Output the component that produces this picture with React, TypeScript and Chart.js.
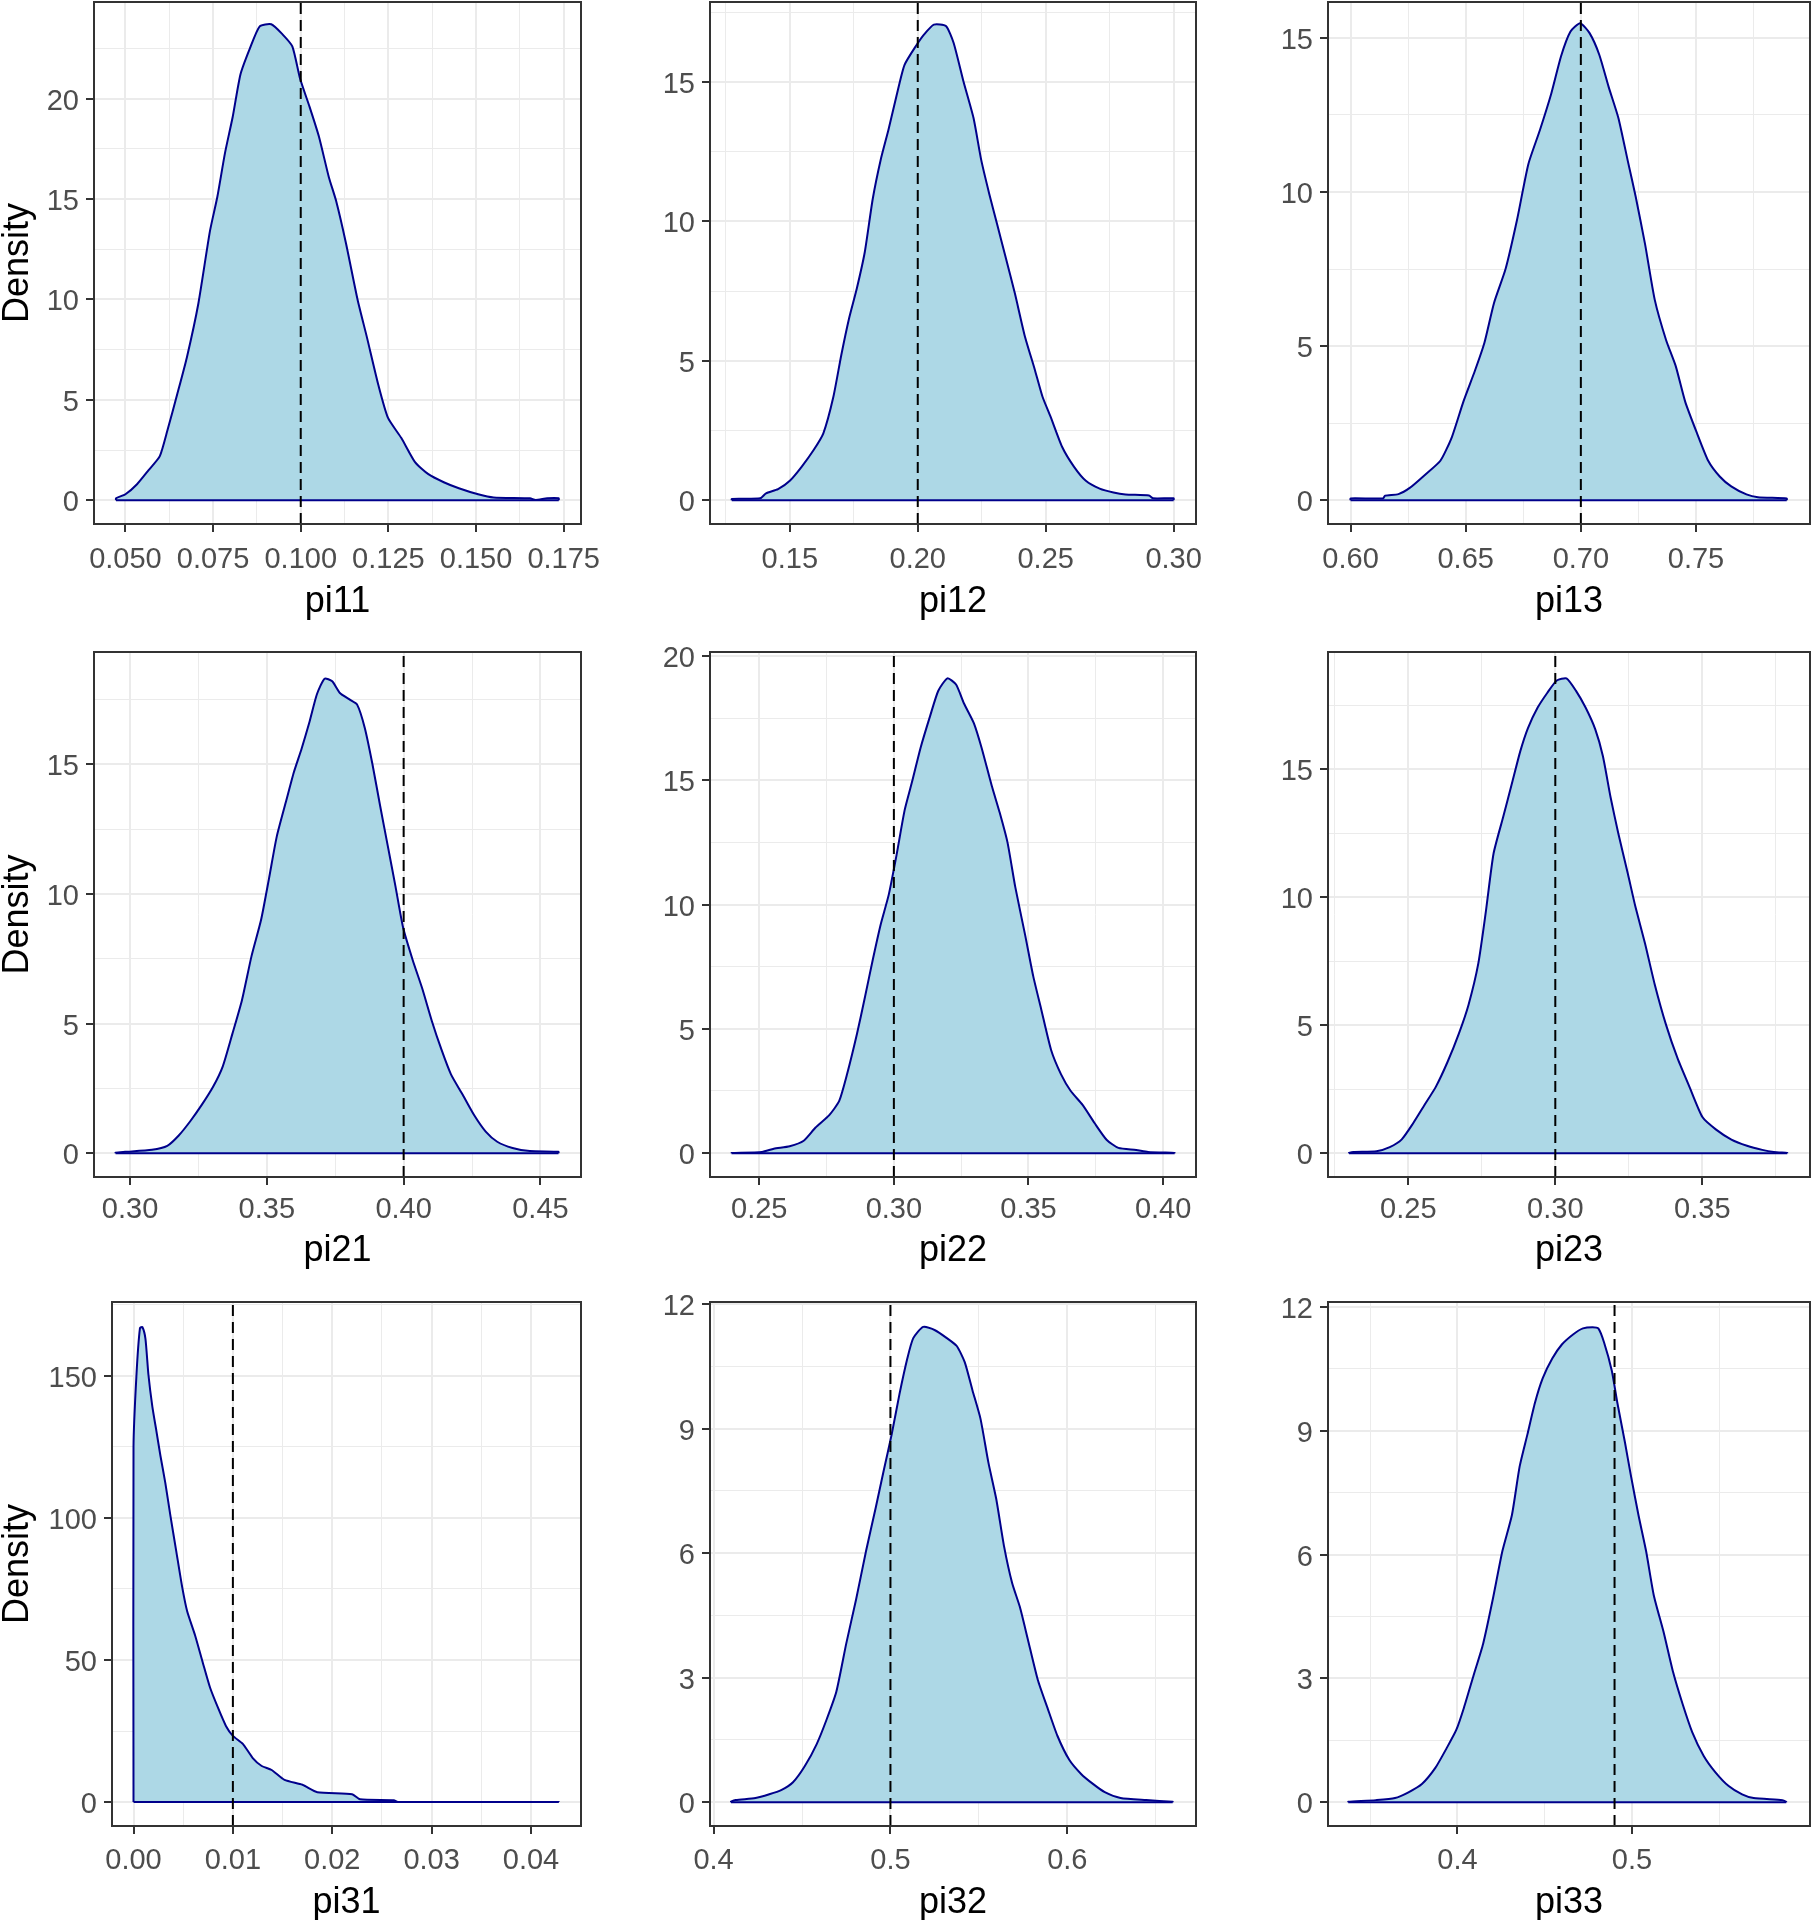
import React, { useEffect, useRef } from "react";
import { Chart, registerables } from "chart.js";

Chart.register(...registerables);

// ---------------- data ----------------
const PARAM_NAMES = ["pi11", "pi12", "pi13", "pi21", "pi22", "pi23", "pi31", "pi32", "pi33"];
const TRUE_VALUES = [0.1, 0.2, 0.7, 0.4, 0.3, 0.3, 0.01, 0.5, 0.49];

const PI11_X = [0.0473, 0.05, 0.0533, 0.0566, 0.0598, 0.062, 0.0648, 0.0675, 0.0708, 0.0741, 0.0762, 0.0784, 0.0806, 0.0828, 0.0855, 0.0883, 0.0916, 0.0948, 0.0976, 0.0998, 0.1025, 0.1052, 0.108, 0.1101, 0.1129, 0.1162, 0.1189, 0.1222, 0.1249, 0.1287, 0.1326, 0.1364, 0.1408, 0.1451, 0.1506, 0.155, 0.1654, 0.167, 0.1703, 0.1736];
const PI11_Y = [0.1, 0.3, 0.8, 1.5, 2.2, 3.5, 5.3, 7.1, 9.8, 13.4, 15.1, 17.3, 19.1, 21.2, 22.5, 23.6, 23.7, 23.2, 22.6, 21.0, 19.6, 18.1, 16.1, 14.9, 12.8, 10.0, 8.1, 5.7, 4.1, 3.1, 1.9, 1.3, 0.9, 0.6, 0.3, 0.14, 0.1, 0.02, 0.1, 0.1];

const PI12_X = [0.1273, 0.1384, 0.1407, 0.1454, 0.15, 0.1546, 0.1593, 0.1631, 0.167, 0.1701, 0.1731, 0.1762, 0.1793, 0.1824, 0.1855, 0.1886, 0.1917, 0.1948, 0.1994, 0.2025, 0.2063, 0.211, 0.214, 0.2179, 0.2218, 0.2248, 0.2279, 0.231, 0.2341, 0.238, 0.2418, 0.2457, 0.2488, 0.2519, 0.2565, 0.2611, 0.2657, 0.2711, 0.2765, 0.2812, 0.2904, 0.292, 0.3];
const PI12_Y = [0.05, 0.07, 0.25, 0.4, 0.7, 1.2, 1.8, 2.4, 3.7, 5.2, 6.5, 7.6, 8.9, 10.8, 12.2, 13.3, 14.5, 15.6, 16.3, 16.7, 17.05, 17.0, 16.4, 15.0, 13.7, 12.2, 11.0, 9.9, 8.8, 7.4, 5.9, 4.7, 3.7, 3.0, 1.9, 1.2, 0.7, 0.42, 0.28, 0.21, 0.17, 0.07, 0.07];

const PI13_X = [0.6, 0.6141, 0.615, 0.6208, 0.6257, 0.6324, 0.639, 0.644, 0.649, 0.654, 0.6581, 0.6623, 0.6673, 0.6723, 0.6772, 0.6822, 0.6872, 0.6914, 0.6955, 0.6997, 0.7038, 0.708, 0.7121, 0.7163, 0.7204, 0.7238, 0.7279, 0.7321, 0.737, 0.7412, 0.7453, 0.7503, 0.7553, 0.7603, 0.7653, 0.7719, 0.7769, 0.7894];
const PI13_Y = [0.06, 0.06, 0.15, 0.2, 0.4, 0.83, 1.28, 2.05, 3.2, 4.2, 5.1, 6.4, 7.5, 9.1, 10.9, 12.0, 13.2, 14.4, 15.2, 15.47, 15.15, 14.45, 13.4, 12.4, 11.0, 9.85, 8.3, 6.5, 5.2, 4.35, 3.2, 2.2, 1.28, 0.77, 0.45, 0.19, 0.1, 0.06];

const PI21_X = [0.2947, 0.2982, 0.308, 0.3136, 0.3178, 0.322, 0.3262, 0.3304, 0.3339, 0.3374, 0.3409, 0.3444, 0.3479, 0.3508, 0.3536, 0.3571, 0.3599, 0.3627, 0.3655, 0.3683, 0.3711, 0.3739, 0.3767, 0.3802, 0.383, 0.3858, 0.3886, 0.3914, 0.3942, 0.397, 0.3998, 0.4033, 0.4068, 0.4103, 0.4138, 0.4173, 0.4216, 0.4258, 0.43, 0.4342, 0.4398, 0.4461, 0.4566];
const PI21_Y = [0.02, 0.05, 0.13, 0.28, 0.68, 1.23, 1.86, 2.57, 3.35, 4.6, 5.9, 7.6, 9.0, 10.6, 12.2, 13.6, 14.7, 15.6, 16.6, 17.7, 18.3, 18.2, 17.75, 17.5, 17.3, 16.4, 15.0, 13.4, 11.85, 10.3, 8.7, 7.45, 6.35, 5.1, 4.0, 3.04, 2.25, 1.46, 0.83, 0.44, 0.2, 0.08, 0.05];

const PI22_X = [0.2397, 0.251, 0.2554, 0.2613, 0.2665, 0.2709, 0.276, 0.2797, 0.2826, 0.2863, 0.2893, 0.2922, 0.2951, 0.2981, 0.301, 0.304, 0.3069, 0.3099, 0.3135, 0.3165, 0.3199, 0.3231, 0.326, 0.3297, 0.3326, 0.3363, 0.3393, 0.3422, 0.3451, 0.3488, 0.3518, 0.3547, 0.3584, 0.3621, 0.3657, 0.3701, 0.3746, 0.379, 0.3834, 0.39, 0.3944, 0.4043];
const PI22_Y = [0.01, 0.05, 0.18, 0.28, 0.5, 1.03, 1.53, 2.1, 3.17, 4.8, 6.3, 7.8, 9.2, 10.4, 12.0, 13.8, 15.0, 16.3, 17.6, 18.6, 19.1, 18.85, 18.1, 17.3, 16.3, 14.8, 13.7, 12.5, 10.7, 8.75, 7.1, 5.8, 4.15, 3.17, 2.5, 1.94, 1.2, 0.54, 0.21, 0.13, 0.05, 0.01];

const PI23_X = [0.2298, 0.2313, 0.2392, 0.2437, 0.2477, 0.2516, 0.2555, 0.2594, 0.2633, 0.2672, 0.2705, 0.2738, 0.2764, 0.279, 0.2822, 0.2855, 0.2881, 0.2907, 0.294, 0.2973, 0.3005, 0.3038, 0.307, 0.3103, 0.3136, 0.3162, 0.3188, 0.3214, 0.3247, 0.3273, 0.3305, 0.3338, 0.3377, 0.3416, 0.3456, 0.3501, 0.3547, 0.3599, 0.3652, 0.3704, 0.3743, 0.3789];
const PI23_Y = [0.01, 0.05, 0.08, 0.24, 0.53, 1.16, 1.88, 2.6, 3.55, 4.67, 5.8, 7.4, 9.45, 11.7, 13.1, 14.55, 15.7, 16.6, 17.4, 17.98, 18.46, 18.54, 18.06, 17.4, 16.55, 15.5, 13.9, 12.5, 10.9, 9.6, 8.2, 6.6, 5.0, 3.7, 2.6, 1.4, 0.92, 0.53, 0.29, 0.13, 0.05, 0.01];

const PI31_X = [0.0, 0.0003, 0.00065, 0.00089, 0.0012, 0.0015, 0.0019, 0.0023, 0.0027, 0.0032, 0.0037, 0.0043, 0.0049, 0.0054, 0.0062, 0.007, 0.0077, 0.0085, 0.0093, 0.01, 0.011, 0.012, 0.0129, 0.0139, 0.0152, 0.017, 0.0185, 0.022, 0.0228, 0.0262, 0.0266, 0.0428];
const PI31_Y = [125, 150.4, 166.7, 167.1, 163, 150.4, 139, 130.6, 122, 112.3, 101, 88.3, 75.6, 67.1, 58.6, 48.7, 40.3, 33.2, 26.8, 23.3, 20.5, 15.5, 12.7, 11.3, 7.8, 6.1, 3.5, 2.8, 1.0, 0.7, 0.05, 0.05];

const PI32_X = [0.4098, 0.4125, 0.4237, 0.4315, 0.4382, 0.4449, 0.4516, 0.4583, 0.4638, 0.4694, 0.475, 0.4806, 0.4862, 0.4917, 0.4962, 0.5007, 0.5051, 0.5096, 0.5129, 0.5185, 0.5252, 0.5319, 0.5375, 0.542, 0.5464, 0.5509, 0.5554, 0.5598, 0.5643, 0.5688, 0.5732, 0.5777, 0.5833, 0.5888, 0.5944, 0.6011, 0.6078, 0.6145, 0.6212, 0.6301, 0.6446, 0.6596];
const PI32_Y = [0.01, 0.05, 0.1, 0.19, 0.29, 0.48, 0.87, 1.4, 1.98, 2.66, 3.82, 4.89, 6.05, 7.1, 7.99, 8.86, 9.83, 10.7, 11.18, 11.45, 11.37, 11.18, 10.99, 10.6, 9.92, 9.24, 8.18, 7.31, 6.15, 5.28, 4.7, 3.92, 2.95, 2.27, 1.6, 1.02, 0.68, 0.44, 0.24, 0.1, 0.05, 0.01];

const PI33_X = [0.3374, 0.3532, 0.3642, 0.3719, 0.3796, 0.3873, 0.3938, 0.3993, 0.4037, 0.4092, 0.4147, 0.4202, 0.4257, 0.4312, 0.4356, 0.44, 0.4444, 0.4488, 0.4543, 0.4598, 0.4664, 0.4719, 0.4774, 0.4807, 0.484, 0.4884, 0.4916, 0.496, 0.4993, 0.5037, 0.5081, 0.5125, 0.518, 0.5235, 0.529, 0.5345, 0.5411, 0.5477, 0.5554, 0.5631, 0.5697, 0.5862, 0.5884];
const PI33_Y = [0.01, 0.05, 0.1, 0.24, 0.44, 0.83, 1.31, 1.75, 2.29, 3.07, 3.84, 4.91, 6.08, 6.96, 8.13, 8.9, 9.68, 10.27, 10.75, 11.09, 11.34, 11.48, 11.51, 11.48, 11.14, 10.46, 9.68, 8.71, 7.93, 6.96, 6.08, 5.01, 4.14, 3.16, 2.38, 1.7, 1.12, 0.73, 0.39, 0.19, 0.1, 0.05, 0.01];

// tick labels
const X_TICKS_PI11 = ["0.050", "0.075", "0.100", "0.125", "0.150", "0.175"];
const X_TICKS_PI12 = ["0.15", "0.20", "0.25", "0.30"];
const X_TICKS_PI13 = ["0.60", "0.65", "0.70", "0.75"];
const X_TICKS_PI21 = ["0.30", "0.35", "0.40", "0.45"];
const X_TICKS_PI22 = ["0.25", "0.30", "0.35", "0.40"];
const X_TICKS_PI23 = ["0.25", "0.30", "0.35"];
const X_TICKS_PI31 = ["0.00", "0.01", "0.02", "0.03", "0.04"];
const X_TICKS_PI32 = ["0.4", "0.5", "0.6"];
const X_TICKS_PI33 = ["0.4", "0.5"];

const Y_TICKS_PI11 = ["0", "5", "10", "15", "20"];
const Y_TICKS_PI12 = ["0", "5", "10", "15"];
const Y_TICKS_PI13 = ["0", "5", "10", "15"];
const Y_TICKS_PI21 = ["0", "5", "10", "15"];
const Y_TICKS_PI22 = ["0", "5", "10", "15", "20"];
const Y_TICKS_PI23 = ["0", "5", "10", "15"];
const Y_TICKS_PI31 = ["0", "50", "100", "150"];
const Y_TICKS_PI32 = ["0", "3", "6", "9", "12"];
const Y_TICKS_PI33 = ["0", "3", "6", "9", "12"];

// axis limits
const X_LIMITS: [number, number][] = [
  [0.04103, 0.17994], [0.1188, 0.30875], [0.59021, 0.7995],
  [0.28683, 0.46482], [0.2317, 0.41222], [0.22269, 0.38663],
  [-0.002164, 0.04503], [0.39797, 0.67277], [0.3258, 0.602],
];
const Y_LIMITS: [number, number][] = [
  [-1.18, 24.81], [-0.85, 17.86], [-0.77, 16.16],
  [-0.92, 19.33], [-0.96, 20.16], [-0.93, 19.57],
  [-8.4, 175.9], [-0.574, 12.05], [-0.577, 12.12],
];

const SERIES_X = [PI11_X, PI12_X, PI13_X, PI21_X, PI22_X, PI23_X, PI31_X, PI32_X, PI33_X];
const SERIES_Y = [PI11_Y, PI12_Y, PI13_Y, PI21_Y, PI22_Y, PI23_Y, PI31_Y, PI32_Y, PI33_Y];
const X_TICKS = [X_TICKS_PI11, X_TICKS_PI12, X_TICKS_PI13, X_TICKS_PI21, X_TICKS_PI22, X_TICKS_PI23, X_TICKS_PI31, X_TICKS_PI32, X_TICKS_PI33];
const Y_TICKS = [Y_TICKS_PI11, Y_TICKS_PI12, Y_TICKS_PI13, Y_TICKS_PI21, Y_TICKS_PI22, Y_TICKS_PI23, Y_TICKS_PI31, Y_TICKS_PI32, Y_TICKS_PI33];

// ---------------- layout ----------------
const COL_CANVAS = [[0, 604], [604, 1210], [1210, 1813]];
const ROW_CANVAS = [[0, 624], [630, 1277], [1280, 1920]];
const PANEL_TOP = [2, 652, 1302];
const PANEL_BOTTOM = [524, 1177, 1826];
const PANEL_LEFT = [[94, 710, 1328], [94, 710, 1328], [112, 710, 1328]];
const PANEL_RIGHT = [581, 1196, 1810];
const TITLE_PAD = [4, 8, -1];
const XTICK_PAD = [11, 8, 10];

const FONT = "'Liberation Sans', Arial, Helvetica, sans-serif";
const FILL = "#ADD8E6";
const LINE = "#00008B";
const GRID = "#EBEBEB";
const FRAME = "#333333";
const TICK_TEXT = "#4D4D4D";

function minorBreaks(majors: number[], lo: number, hi: number): number[] {
  const step = majors[1] - majors[0];
  const out: number[] = [];
  for (let k = -3; k <= majors.length + 2; k++) {
    const v = majors[0] + (k + 0.5) * step;
    if (v >= lo && v <= hi) out.push(v);
  }
  return out;
}

function makeTicks(labels: string[], lo: number, hi: number) {
  const majors = labels.map(Number);
  const minors = minorBreaks(majors, lo, hi);
  return [
    ...majors.map((v, i) => ({ value: v, lbl: labels[i] })),
    ...minors.map((v) => ({ value: v, lbl: "" })),
  ].sort((a, b) => a.value - b.value);
}

const panelBorder = {
  id: "panelBorder",
  afterDraw(chart: any) {
    const { ctx, chartArea: a } = chart;
    ctx.save();
    ctx.strokeStyle = FRAME;
    ctx.lineWidth = 2;
    ctx.strokeRect(a.left, a.top, a.right - a.left, a.bottom - a.top);
    ctx.restore();
  },
};

function Panel({ idx }: { idx: number }) {
  const ref = useRef<HTMLCanvasElement>(null);
  const row = Math.floor(idx / 3);
  const col = idx % 3;
  const cx = COL_CANVAS[col][0];
  const cw = COL_CANVAS[col][1] - cx;
  const cy = ROW_CANVAS[row][0];
  const ch = ROW_CANVAS[row][1] - cy;
  const left = PANEL_LEFT[row][col];
  const right = PANEL_RIGHT[col];
  const top = PANEL_TOP[row];
  const bottom = PANEL_BOTTOM[row];
  const yAxisW = left - cx;
  const xAxisH = ROW_CANVAS[row][1] - bottom;
  const padTop = top - cy;
  const padRight = COL_CANVAS[col][1] - right;

  useEffect(() => {
    const xs = SERIES_X[idx];
    const ys = SERIES_Y[idx];
    const [xMin, xMax] = X_LIMITS[idx];
    const [yMin, yMax] = Y_LIMITS[idx];
    const last = xs.length - 1;
    const curve = [
      { x: xs[0], y: 0 },
      ...xs.map((x, i) => ({ x, y: ys[i] })),
      { x: xs[last], y: 0 },
    ];
    const truth = TRUE_VALUES[idx];

    const gridCfg = {
      color: GRID,
      lineWidth: (c: any) => (c.tick && c.tick.lbl ? 2 : 1),
      drawTicks: true,
      tickLength: 8,
      tickWidth: 2,
      tickColor: (c: any) => (c.tick && c.tick.lbl ? FRAME : "rgba(0,0,0,0)"),
    };
    const tickLabel = function (_v: any, index: number, ticks: any[]) {
      return ticks[index] ? ticks[index].lbl : "";
    };

    const chart = new Chart(ref.current as HTMLCanvasElement, {
      type: "line",
      data: {
        datasets: [
          {
            data: [{ x: truth, y: yMin }, { x: truth, y: yMax }],
            borderColor: "#000000",
            borderWidth: 2,
            borderDash: [11, 6],
            pointRadius: 0,
            fill: false,
            order: 0,
          },
          {
            data: [{ x: xs[0], y: 0 }, { x: xs[last], y: 0 }],
            borderColor: LINE,
            borderWidth: 2,
            pointRadius: 0,
            fill: false,
            order: 1,
          },
          {
            data: curve,
            borderColor: LINE,
            backgroundColor: FILL,
            borderWidth: 2,
            borderJoinStyle: "round",
            pointRadius: 0,
            fill: "origin",
            tension: 0.2,
            order: 2,
          },
        ],
      } as any,
      options: {
        animation: false,
        responsive: false,
        maintainAspectRatio: false,
        devicePixelRatio: 1,
        events: [],
        layout: { autoPadding: false, padding: { top: padTop, right: padRight, left: 0, bottom: 0 } },
        plugins: { legend: { display: false }, tooltip: { enabled: false }, title: { display: false } },
        scales: {
          x: {
            type: "linear",
            min: xMin,
            max: xMax,
            bounds: "data",
            afterBuildTicks: (s: any) => {
              s.ticks = makeTicks(X_TICKS[idx], xMin, xMax);
            },
            afterFit: (s: any) => {
              s.height = xAxisH;
              s.paddingLeft = 0;
              s.paddingRight = 0;
              s.paddingTop = 0;
              s.paddingBottom = 0;
            },
            grid: gridCfg,
            border: { display: false },
            ticks: {
              autoSkip: false,
              maxRotation: 0,
              minRotation: 0,
              padding: XTICK_PAD[row],
              color: TICK_TEXT,
              font: { family: FONT, size: 29 },
              callback: tickLabel,
            },
            title: {
              display: true,
              text: PARAM_NAMES[idx],
              color: "#000000",
              font: { family: FONT, size: 36, lineHeight: 1 },
              padding: { top: 0, bottom: TITLE_PAD[row] },
            },
          },
          y: {
            type: "linear",
            min: yMin,
            max: yMax,
            bounds: "data",
            afterBuildTicks: (s: any) => {
              s.ticks = makeTicks(Y_TICKS[idx], yMin, yMax);
            },
            afterFit: (s: any) => {
              s.width = yAxisW;
              s.paddingLeft = 0;
              s.paddingRight = 0;
              s.paddingTop = 0;
              s.paddingBottom = 0;
            },
            grid: gridCfg,
            border: { display: false },
            ticks: {
              autoSkip: false,
              padding: 7,
              labelOffset: 3,
              color: TICK_TEXT,
              font: { family: FONT, size: 29 },
              callback: tickLabel,
            },
            title: {
              display: col === 0,
              text: "Density",
              color: "#000000",
              font: { family: FONT, size: 36, lineHeight: 1 },
              padding: { top: 0, bottom: 0 },
            },
          },
        },
      } as any,
      plugins: [panelBorder],
    });
    return () => chart.destroy();
  }, [idx]);

  return (
    <canvas
      ref={ref}
      width={cw}
      height={ch}
      style={{ position: "absolute", left: cx, top: cy, width: cw, height: ch }}
    />
  );
}

export default function App() {
  return (
    <div
      style={{
        position: "absolute",
        left: 0,
        top: 0,
        width: 1813,
        height: 1920,
        overflow: "hidden",
        background: "#ffffff",
      }}
    >
      {PARAM_NAMES.map((_, i) => (
        <Panel key={i} idx={i} />
      ))}
    </div>
  );
}
